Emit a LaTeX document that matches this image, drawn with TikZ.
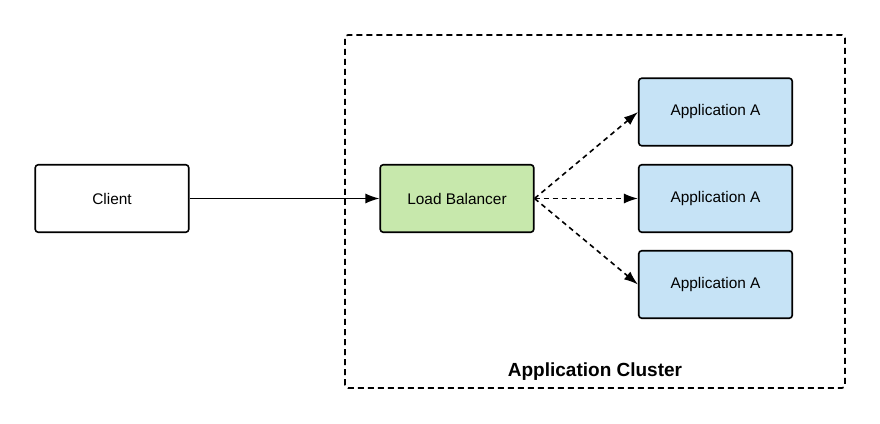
\documentclass[tikz,border=0pt]{standalone}
\usepackage{fontspec}
\setmainfont{Liberation Sans}
\usepackage{tikz}
\usetikzlibrary{arrows.meta}

\definecolor{lbgreen}{HTML}{C7E8AC}
\definecolor{appblue}{HTML}{C6E3F6}

\tikzset{
  box/.style={draw, line width=1.6pt, rounded corners=3pt, minimum width=153.5pt,
    minimum height=67.5pt, font=\fontsize{15.4}{18}\selectfont},
  link/.style={line width=1.6pt, -{Latex[length=14pt,width=10pt]}},
}

\begin{document}
\begin{tikzpicture}[x=1pt,y=1pt]
      \useasboundingbox (0,0) rectangle (880,423);
      \draw[line width=1.6pt, dash pattern=on 6pt off 4pt, rounded corners=3pt] (345,35) rectangle (845,388);
      \node (cluster) at (595, 51) {\fontsize{19}{22}\selectfont\bfseries Application Cluster};
      \node[box] (client) at (112, 224.5) {Client};
      \node[box, fill=lbgreen] (lb) at (457, 224.5) {Load Balancer};
			\node[box, fill=appblue] (appa) at (715.5, 311) {Application A};
			\node[box, fill=appblue] (appb) at (715.5, 224.5) {Application A};
			\node[box, fill=appblue] (appc) at (715.5, 138.5) {Application A};
      \draw[link] (client) -- (lb);
      \draw[link, dash pattern=on 5pt off 4pt] (lb.east) -- (appa.west);
      \draw[link, dash pattern=on 5pt off 4pt] (lb.east) -- (appb.west);
      \draw[link, dash pattern=on 5pt off 4pt] (lb.east) -- (appc.west);
\end{tikzpicture}
\end{document}
